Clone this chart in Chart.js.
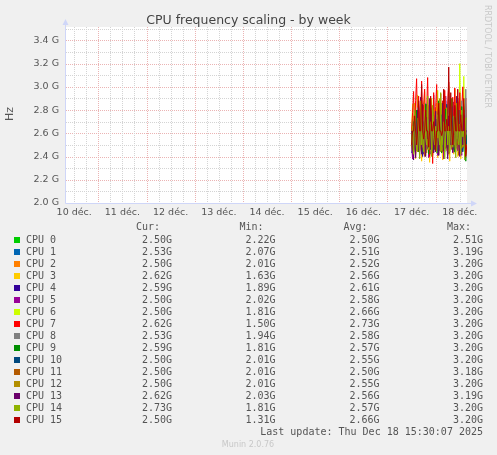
<!DOCTYPE html>
<html>
<head>
<meta charset="utf-8">
<title>CPU frequency scaling - by week</title>
<script src="https://cdn.jsdelivr.net/npm/chart.js@4.4.1/dist/chart.umd.min.js"></script>
<style>
  html, body { margin: 0; padding: 0; background: #f0f0f0; }
  canvas { display: block; }
</style>
</head>
<body>
<canvas id="cpuFreqChart" width="497" height="455"></canvas>
<script>
// hours counted from 10 Dec 00:00, labels sit at noon of each day
const dayLabels = ['10 déc.', '11 déc.', '12 déc.', '13 déc.', '14 déc.', '15 déc.', '16 déc.', '17 déc.', '18 déc.'];
const dayTicks = [12, 36, 60, 84, 108, 132, 156, 180, 204];
const yTicks = [2.0, 2.2, 2.4, 2.6, 2.8, 3.0, 3.2, 3.4];

const cpuNames = ['CPU 0', 'CPU 1', 'CPU 2', 'CPU 3', 'CPU 4', 'CPU 5', 'CPU 6', 'CPU 7',
  'CPU 8', 'CPU 9', 'CPU 10', 'CPU 11', 'CPU 12', 'CPU 13', 'CPU 14', 'CPU 15'];
const cpuColors = ['#00cc00', '#0066b3', '#ff8000', '#ffcc00', '#330099', '#990099', '#ccff00', '#ff0000',
  '#808080', '#008f00', '#00487d', '#b35a00', '#b38f00', '#6b006b', '#8fb300', '#b30000'];

// 30 minute samples, 17 Dec 12:00 -> 18 Dec 15:30
const hours = [
  180, 180.5, 181, 181.5, 182, 182.5, 183, 183.5,
  184, 184.5, 185, 185.5, 186, 186.5, 187, 187.5,
  188, 188.5, 189, 189.5, 190, 190.5, 191, 191.5,
  192, 192.5, 193, 193.5, 194, 194.5, 195, 195.5,
  196, 196.5, 197, 197.5, 198, 198.5, 199, 199.5,
  200, 200.5, 201, 201.5, 202, 202.5, 203, 203.5,
  204, 204.5, 205, 205.5, 206, 206.5, 207, 207.5
];

// GHz
const cpu0 = [
  2.50, 2.50, 2.48, 2.50, 2.50, 2.50, 2.50, 2.46,
  2.50, 2.50, 2.50, 2.50, 2.49, 2.50, 2.50, 2.50,
  2.50, 2.50, 2.47, 2.50, 2.50, 2.50, 2.50, 2.50,
  2.50, 2.50, 2.44, 2.50, 2.50, 2.50, 2.50, 2.50,
  2.50, 2.50, 2.48, 2.50, 2.50, 2.50, 2.50, 2.50,
  2.50, 2.50, 2.50, 2.45, 2.50, 2.50, 2.50, 2.50,
  2.50, 2.50, 2.50, 2.50, 2.49, 2.50, 2.50, 2.50
];
const cpu1 = [
  2.43, 2.50, 2.55, 2.50, 2.47, 2.62, 2.50, 2.50,
  2.44, 2.50, 2.58, 2.50, 2.50, 2.46, 2.53, 2.50,
  2.66, 2.50, 2.50, 2.42, 2.50, 2.55, 2.50, 2.50,
  2.48, 2.50, 2.61, 2.50, 2.45, 2.50, 2.50, 2.70,
  2.50, 2.44, 2.50, 2.52, 2.50, 2.50, 2.47, 2.58,
  2.50, 2.50, 2.43, 2.50, 2.56, 2.50, 2.50, 2.49,
  2.50, 2.60, 2.50, 2.45, 2.50, 2.50, 2.50, 2.53
];
const cpu2 = [
  2.50, 2.56, 2.45, 2.50, 2.68, 2.50, 2.48, 2.50,
  2.62, 2.50, 2.44, 2.55, 2.50, 2.50, 2.72, 2.50,
  2.46, 2.50, 2.58, 2.50, 2.50, 2.41, 2.50, 2.64,
  2.50, 2.50, 2.47, 2.50, 2.59, 2.50, 2.50, 2.45,
  2.50, 2.66, 2.50, 2.50, 2.43, 2.50, 2.54, 2.50,
  2.50, 2.70, 2.50, 2.48, 2.50, 2.50, 2.61, 2.50,
  2.44, 2.50, 2.57, 2.50, 2.52, 2.46, 2.50, 2.50
];
const cpu3 = [
  2.62, 2.40, 2.75, 2.50, 2.38, 2.62, 2.81, 2.50,
  2.45, 2.70, 2.36, 2.55, 2.62, 2.84, 2.41, 2.50,
  2.68, 2.50, 2.35, 2.62, 2.77, 2.50, 2.44, 2.62,
  2.50, 2.86, 2.39, 2.50, 2.62, 2.71, 2.50, 2.37,
  2.62, 2.50, 2.79, 2.45, 2.50, 2.62, 2.36, 2.68,
  2.50, 2.74, 2.42, 2.62, 2.50, 2.83, 2.40, 2.50,
  2.62, 2.38, 2.70, 2.50, 2.62, 2.44, 2.76, 2.62
];
const cpu4 = [
  2.59, 2.72, 2.44, 2.62, 2.80, 2.50, 2.67, 2.45,
  2.62, 2.91, 2.55, 2.40, 2.70, 2.62, 2.50, 2.85,
  2.59, 2.47, 2.64, 2.78, 2.50, 2.62, 2.93, 2.52,
  2.44, 2.69, 2.62, 2.50, 2.82, 2.59, 2.46, 2.71,
  2.62, 2.55, 2.88, 2.50, 2.62, 2.43, 2.74, 2.62,
  2.50, 2.81, 2.59, 2.47, 2.66, 2.62, 2.90, 2.50,
  2.58, 2.75, 2.44, 2.62, 2.70, 2.50, 2.63, 2.59
];
const cpu5 = [
  2.50, 2.38, 2.66, 2.78, 2.45, 2.62, 2.50, 2.88,
  2.40, 2.62, 2.72, 2.50, 2.42, 2.83, 2.62, 2.50,
  2.67, 2.39, 2.55, 2.90, 2.50, 2.62, 2.44, 2.76,
  2.62, 2.50, 2.41, 2.84, 2.62, 2.57, 2.50, 2.70,
  2.38, 2.62, 2.92, 2.50, 2.64, 2.46, 2.79, 2.50,
  2.62, 2.43, 2.87, 2.50, 2.58, 2.71, 2.45, 2.62,
  2.80, 2.50, 2.41, 2.66, 2.50, 2.75, 2.62, 2.50
];
const cpu6 = [
  2.62, 2.85, 2.50, 2.86, 2.74, 2.50, 2.93, 2.62,
  2.70, 2.48, 2.88, 2.62, 2.55, 2.96, 2.50, 2.78,
  2.62, 2.84, 2.45, 2.70, 2.90, 2.62, 2.52, 2.81,
  2.66, 2.50, 2.97, 2.62, 2.74, 2.48, 2.86, 2.62,
  2.70, 2.92, 2.55, 2.80, 2.62, 3.01, 2.50, 2.75,
  2.86, 2.62, 2.53, 2.98, 2.70, 2.62, 2.84, 2.50,
  3.20, 2.66, 2.78, 2.55, 3.09, 2.62, 2.50, 2.50
];
const cpu7 = [
  2.62, 2.78, 2.96, 2.55, 2.88, 3.07, 2.62, 2.92,
  2.70, 2.50, 3.05, 2.62, 2.85, 2.98, 2.58, 2.80,
  3.08, 2.62, 2.40, 2.90, 2.72, 2.34, 2.95, 2.62,
  2.83, 3.02, 2.55, 2.76, 2.62, 2.94, 2.50, 2.88,
  2.62, 2.97, 2.71, 2.48, 2.86, 3.04, 2.62, 2.79,
  2.56, 2.91, 2.62, 2.99, 2.73, 2.50, 2.87, 2.62,
  2.95, 2.70, 2.82, 3.00, 2.62, 2.78, 2.90, 2.62
];
const cpu8 = [
  2.53, 2.66, 2.45, 2.70, 2.53, 2.58, 2.82, 2.50,
  2.62, 2.47, 2.75, 2.53, 2.60, 2.44, 2.86, 2.53,
  2.50, 2.72, 2.58, 2.46, 2.64, 2.80, 2.53, 2.50,
  2.68, 2.53, 2.43, 2.77, 2.62, 2.50, 2.58, 2.84,
  2.53, 2.48, 2.70, 2.62, 2.53, 2.92, 2.45, 2.60,
  2.53, 2.74, 2.50, 2.62, 2.46, 2.81, 2.53, 2.66,
  2.50, 2.58, 2.88, 2.53, 2.62, 2.47, 2.98, 2.53
];
const cpu9 = [
  2.59, 2.45, 2.70, 2.53, 2.62, 2.80, 2.50, 2.44,
  2.66, 2.59, 2.75, 2.48, 2.62, 2.55, 2.85, 2.50,
  2.59, 2.42, 2.68, 2.62, 2.50, 2.78, 2.59, 2.46,
  2.72, 2.53, 2.62, 2.88, 2.50, 2.59, 2.43, 2.67,
  2.62, 2.50, 2.81, 2.59, 2.47, 2.70, 2.62, 2.55,
  2.90, 2.50, 2.59, 2.44, 2.73, 2.62, 2.50, 2.59,
  2.66, 2.48, 2.83, 2.59, 2.62, 2.50, 2.36, 2.59
];
const cpu10 = [
  2.50, 2.62, 2.44, 2.58, 2.70, 2.50, 2.46, 2.66,
  2.50, 2.78, 2.52, 2.42, 2.62, 2.50, 2.73, 2.55,
  2.47, 2.64, 2.50, 2.82, 2.50, 2.45, 2.59, 2.62,
  2.50, 2.71, 2.43, 2.50, 2.66, 2.50, 2.76, 2.48,
  2.62, 2.50, 2.55, 2.85, 2.50, 2.44, 2.62, 2.68,
  2.50, 2.57, 2.46, 2.74, 2.50, 2.62, 2.50, 2.80,
  2.48, 2.62, 2.50, 2.44, 2.69, 2.50, 2.58, 2.50
];
const cpu11 = [
  2.50, 2.45, 2.58, 2.50, 2.42, 2.62, 2.50, 2.47,
  2.70, 2.50, 2.44, 2.50, 2.56, 2.40, 2.50, 2.66,
  2.50, 2.46, 2.50, 2.62, 2.43, 2.50, 2.75, 2.50,
  2.45, 2.50, 2.58, 2.41, 2.50, 2.62, 2.50, 2.44,
  2.50, 2.68, 2.47, 2.50, 2.55, 2.42, 2.50, 2.62,
  2.46, 2.50, 2.72, 2.50, 2.44, 2.58, 2.50, 2.41,
  2.62, 2.50, 2.47, 2.50, 2.80, 2.45, 2.50, 2.50
];
const cpu12 = [
  2.50, 2.66, 2.47, 2.78, 2.50, 2.55, 2.44, 2.70,
  2.62, 2.50, 2.86, 2.48, 2.58, 2.50, 2.74, 2.43,
  2.62, 2.50, 2.68, 2.55, 2.45, 2.80, 2.50, 2.62,
  2.47, 2.72, 2.50, 2.58, 2.90, 2.44, 2.62, 2.50,
  2.66, 2.48, 2.50, 2.77, 2.56, 2.42, 2.62, 2.83,
  2.50, 2.46, 2.70, 2.50, 2.62, 2.55, 2.88, 2.44,
  2.62, 2.50, 2.73, 2.48, 2.50, 2.66, 2.42, 2.50
];
const cpu13 = [
  2.62, 2.50, 2.37, 2.72, 2.39, 2.62, 2.80, 2.45,
  2.58, 2.66, 2.42, 2.85, 2.50, 2.62, 2.40, 2.74,
  2.55, 2.62, 2.90, 2.46, 2.50, 2.68, 2.43, 2.62,
  2.79, 2.50, 2.56, 2.41, 2.70, 2.62, 2.50, 2.86,
  2.45, 2.62, 2.66, 2.50, 2.38, 2.75, 2.62, 2.50,
  2.83, 2.44, 2.62, 2.58, 2.47, 2.92, 2.62, 2.50,
  2.40, 2.68, 2.62, 2.50, 2.76, 2.44, 2.62, 2.62
];
const cpu14 = [
  2.50, 2.66, 2.42, 2.80, 2.57, 2.45, 2.73, 2.62,
  2.38, 2.88, 2.50, 2.66, 2.44, 2.78, 2.57, 2.50,
  2.92, 2.46, 2.62, 2.70, 2.40, 2.84, 2.57, 2.50,
  2.66, 2.43, 2.76, 2.62, 2.50, 2.95, 2.45, 2.57,
  2.70, 2.38, 2.62, 2.82, 2.50, 2.66, 2.44, 2.90,
  2.57, 2.48, 2.75, 2.62, 2.39, 2.86, 2.57, 2.50,
  2.68, 2.42, 2.80, 2.57, 2.62, 2.37, 2.73, 2.73
];
const cpu15 = [
  2.50, 2.62, 2.62, 2.75, 2.62, 2.50, 2.62, 2.88,
  2.62, 2.62, 3.02, 2.62, 2.55, 2.62, 2.80, 2.62,
  2.62, 2.48, 2.62, 2.92, 2.62, 2.62, 2.70, 2.62,
  2.45, 2.62, 2.62, 2.86, 2.62, 2.62, 2.58, 2.62,
  2.98, 2.62, 2.62, 2.72, 2.62, 3.17, 2.62, 2.95,
  2.62, 2.50, 2.62, 2.84, 2.62, 2.62, 2.98, 2.62,
  2.62, 2.76, 2.62, 2.62, 2.90, 2.62, 2.40, 2.50
];

// legend table as printed by munin
const curValues = ['2.50G', '2.53G', '2.50G', '2.62G', '2.59G', '2.50G', '2.50G', '2.62G',
  '2.53G', '2.59G', '2.50G', '2.50G', '2.50G', '2.62G', '2.73G', '2.50G'];
const minValues = ['2.22G', '2.07G', '2.01G', '1.63G', '1.89G', '2.02G', '1.81G', '1.50G',
  '1.94G', '1.81G', '2.01G', '2.01G', '2.01G', '2.03G', '1.81G', '1.31G'];
const avgValues = ['2.50G', '2.51G', '2.52G', '2.56G', '2.61G', '2.58G', '2.66G', '2.73G',
  '2.58G', '2.57G', '2.55G', '2.50G', '2.55G', '2.56G', '2.57G', '2.66G'];
const maxValues = ['2.51G', '3.19G', '3.20G', '3.20G', '3.20G', '3.20G', '3.20G', '3.20G',
  '3.20G', '3.20G', '3.20G', '3.18G', '3.20G', '3.19G', '3.20G', '3.20G'];

const series = [cpu0, cpu1, cpu2, cpu3, cpu4, cpu5, cpu6, cpu7,
  cpu8, cpu9, cpu10, cpu11, cpu12, cpu13, cpu14, cpu15];

const FONT = 'DejaVu Sans';
const MONO = 'DejaVu Sans Mono';
const TEXT_COLOR = '#555555';

function dotted(ctx, x1, y1, x2, y2, color) {
  ctx.strokeStyle = color;
  ctx.beginPath();
  ctx.moveTo(x1, y1);
  ctx.lineTo(x2, y2);
  ctx.stroke();
}

const muninFrame = {
  id: 'muninFrame',
  beforeDraw(chart) {
    const { ctx, chartArea: a } = chart;
    ctx.save();
    ctx.fillStyle = '#f0f0f0';
    ctx.fillRect(0, 0, chart.width, chart.height);
    ctx.fillStyle = '#ffffff';
    ctx.fillRect(a.left, a.top, a.right - a.left, a.bottom - a.top);
    ctx.restore();
  },
  beforeDatasetsDraw(chart) {
    const { ctx, chartArea: a, scales } = chart;
    const x = scales.x, y = scales.y;
    ctx.save();
    ctx.lineWidth = 1;
    ctx.setLineDash([1, 1]);

    // horizontal: minor every 0.1 G, major every 0.2 G
    for (let i = 1; i <= 15; i++) {
      const py = Math.round(y.getPixelForValue(2 + i / 10)) + 0.5;
      if (py < a.top) continue;
      const major = i % 2 === 0;
      dotted(ctx, a.left, py, a.right, py, major ? '#ebb4b4' : '#d4d4d4');
    }
    // vertical: minor every 6 h, major at midnight
    for (let h = 12; h < x.max; h += 6) {
      const px = Math.round(x.getPixelForValue(h)) + 0.5;
      const major = h % 24 === 0;
      dotted(ctx, px, a.top, px, a.bottom, major ? '#ebb4b4' : '#d4d4d4');
    }
    ctx.restore();
  },
  afterDatasetsDraw(chart) {
    const { ctx, chartArea: a } = chart;
    const left = Math.round(a.left) - 0.5;
    const bottom = Math.round(a.bottom) + 0.5;
    ctx.save();
    ctx.strokeStyle = '#cfd6f8';
    ctx.fillStyle = '#cfd6f8';
    ctx.lineWidth = 1;
    ctx.beginPath();
    ctx.moveTo(left, bottom);
    ctx.lineTo(left, a.top - 4);
    ctx.moveTo(left, bottom);
    ctx.lineTo(a.right + 5, bottom);
    ctx.stroke();
    // arrow heads
    ctx.beginPath();
    ctx.moveTo(left - 3, a.top - 2);
    ctx.lineTo(left + 3, a.top - 2);
    ctx.lineTo(left, a.top - 8);
    ctx.closePath();
    ctx.fill();
    ctx.beginPath();
    ctx.moveTo(a.right + 4, bottom - 3);
    ctx.lineTo(a.right + 4, bottom + 3);
    ctx.lineTo(a.right + 10, bottom);
    ctx.closePath();
    ctx.fill();
    ctx.restore();
  },
  afterDraw(chart) {
    const ctx = chart.ctx;
    ctx.save();

    ctx.fillStyle = '#444444';
    ctx.font = `12.5px "${FONT}"`;
    ctx.textAlign = 'center';
    ctx.textBaseline = 'alphabetic';
    ctx.fillText('CPU frequency scaling - by week', 248.5, 24);

    ctx.save();
    ctx.fillStyle = TEXT_COLOR;
    ctx.font = `11px "${FONT}"`;
    ctx.translate(10, 114);
    ctx.rotate(-Math.PI / 2);
    ctx.textBaseline = 'middle';
    ctx.fillText('Hz', 0, 0);
    ctx.restore();

    ctx.save();
    ctx.fillStyle = '#c8c8c8';
    ctx.font = `8px "${FONT}"`;
    ctx.translate(487, 5);
    ctx.rotate(Math.PI / 2);
    ctx.textAlign = 'left';
    ctx.textBaseline = 'middle';
    ctx.fillText('RRDTOOL / TOBI OETIKER', 0, 0);
    ctx.restore();

    // legend table
    ctx.font = `10px "${MONO}"`;
    ctx.textBaseline = 'middle';
    ctx.fillStyle = TEXT_COLOR;
    ctx.textAlign = 'right';
    ctx.fillText('Cur:', 160, 227);
    ctx.fillText('Min:', 263.5, 227);
    ctx.fillText('Avg:', 367.5, 227);
    ctx.fillText('Max:', 471, 227);

    cpuNames.forEach((name, i) => {
      const rowY = 240 + i * 12;
      ctx.fillStyle = cpuColors[i];
      ctx.fillRect(14, rowY - 3, 6, 6);
      ctx.fillStyle = TEXT_COLOR;
      ctx.textAlign = 'left';
      ctx.fillText(name, 26, rowY);
      ctx.textAlign = 'right';
      ctx.fillText(curValues[i], 172, rowY);
      ctx.fillText(minValues[i], 275.5, rowY);
      ctx.fillText(avgValues[i], 379.5, rowY);
      ctx.fillText(maxValues[i], 483, rowY);
    });

    ctx.fillText('Last update: Thu Dec 18 15:30:07 2025', 483, 432);

    ctx.fillStyle = '#c8c8c8';
    ctx.font = `8px "${FONT}"`;
    ctx.textAlign = 'center';
    ctx.fillText('Munin 2.0.76', 248, 444.5);
    ctx.restore();
  }
};

function renderChart() {
  const canvas = document.getElementById('cpuFreqChart');
  const ctx = canvas.getContext('2d');

  const datasets = series.map((values, i) => ({
    label: cpuNames[i],
    data: values.map((v, j) => ({ x: hours[j], y: v })),
    borderColor: cpuColors[i],
    backgroundColor: cpuColors[i],
    borderWidth: 1,
    pointRadius: 0,
    tension: 0,
    fill: false,
    order: series.length - 1 - i   // munin paints CPU 15 last, on top
  }));

  return new Chart(ctx, {
    type: 'line',
    data: { datasets },
    options: {
      responsive: false,
      animation: false,
      devicePixelRatio: 1,
      layout: { padding: { top: 27, right: 30, bottom: 0, left: 0 } },
      plugins: {
        legend: { display: false },
        title: { display: false },
        tooltip: { enabled: false }
      },
      scales: {
        x: {
          type: 'linear',
          min: 7.9,
          max: 207.6,
          afterBuildTicks: axis => { axis.ticks = dayTicks.map(v => ({ value: v })); },
          afterFit: axis => { axis.height = 252; },
          grid: { display: false, drawTicks: false },
          border: { display: false },
          ticks: {
            autoSkip: false,
            maxRotation: 0,
            padding: 4,
            color: TEXT_COLOR,
            font: { family: FONT, size: 9.5 },
            callback: (value, index) => dayLabels[index]
          }
        },
        y: {
          type: 'linear',
          min: 2.0,
          max: 3.515,
          afterBuildTicks: axis => { axis.ticks = yTicks.map(v => ({ value: v })); },
          afterFit: axis => { axis.width = 66; },
          grid: { display: false, drawTicks: false },
          border: { display: false },
          ticks: {
            padding: 7,
            color: TEXT_COLOR,
            font: { family: FONT, size: 9.5 },
            callback: value => value.toFixed(1) + ' G'
          }
        }
      }
    },
    plugins: [muninFrame]
  });
}

renderChart();
</script>
</body>
</html>
